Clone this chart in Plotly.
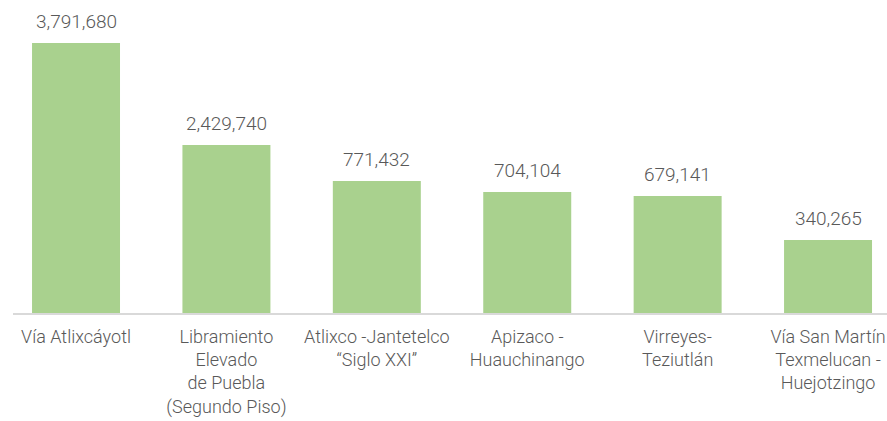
import plotly.graph_objects as go

categories = [
    "Vía Atlixcáyotl",
    "Libramiento<br>Elevado<br>de Puebla<br>(Segundo Piso)",
    "Atlixco -Jantetelco<br>“Siglo XXI”",
    "Apizaco -<br>Huauchinango",
    "Virreyes-<br>Teziutlán",
    "Vía San Martín<br>Texmelucan -<br>Huejotzingo",
]
# values shown in the labels
values = [3791680, 2429740, 771432, 704104, 679141, 340265]
value_labels = ["3,791,680", "2,429,740", "771,432", "704,104", "679,141", "340,265"]
# bar lengths as drawn in the source (not proportional to the labels there),
# expressed in the units of the tallest bar
bar_heights = [3791680, 2359000, 1854000, 1699000, 1643000, 1025000]

idx = list(range(len(categories)))
FONT = "Roboto"
TEXT = "#595959"

fig = go.Figure(
    go.Bar(
        x=idx,
        y=bar_heights,
        width=0.585,
        marker=dict(color="#A9D18E", line=dict(width=0)),
        cliponaxis=False,
        hoverinfo="skip",
    )
)

for xi, yi, lab in zip(idx, bar_heights, value_labels):
    fig.add_annotation(
        x=xi, y=yi, text=lab, showarrow=False,
        xanchor="center", yanchor="bottom", yshift=8,
        font=dict(family=FONT, size=19, color=TEXT, weight=300),
    )

fig.update_layout(
    width=887,
    height=421,
    margin=dict(l=13, r=0, t=13, b=108),
    paper_bgcolor="white",
    plot_bgcolor="white",
    showlegend=False,
    font=dict(family=FONT, color=TEXT),
)
fig.update_xaxes(
    tickmode="array",
    tickvals=idx,
    ticktext=categories,
    range=[-0.419, 5.392],
    showline=True,
    linecolor="#D9D9D9",
    linewidth=2,
    ticks="",
    showgrid=False,
    zeroline=False,
    automargin=False,
    tickfont=dict(family=FONT, size=18, color=TEXT, weight=300),
    ticklabelstandoff=6,
    ticklabeloverflow="allow",
)
fig.update_yaxes(
    range=[0, 4213000],
    visible=False,
    showgrid=False,
    zeroline=False,
    automargin=False,
)

fig.write_html(
    "out.html",
    config={"displayModeBar": False, "staticPlot": True},
    post_script="document.body.style.margin='0';document.body.style.overflow='hidden';",
)
